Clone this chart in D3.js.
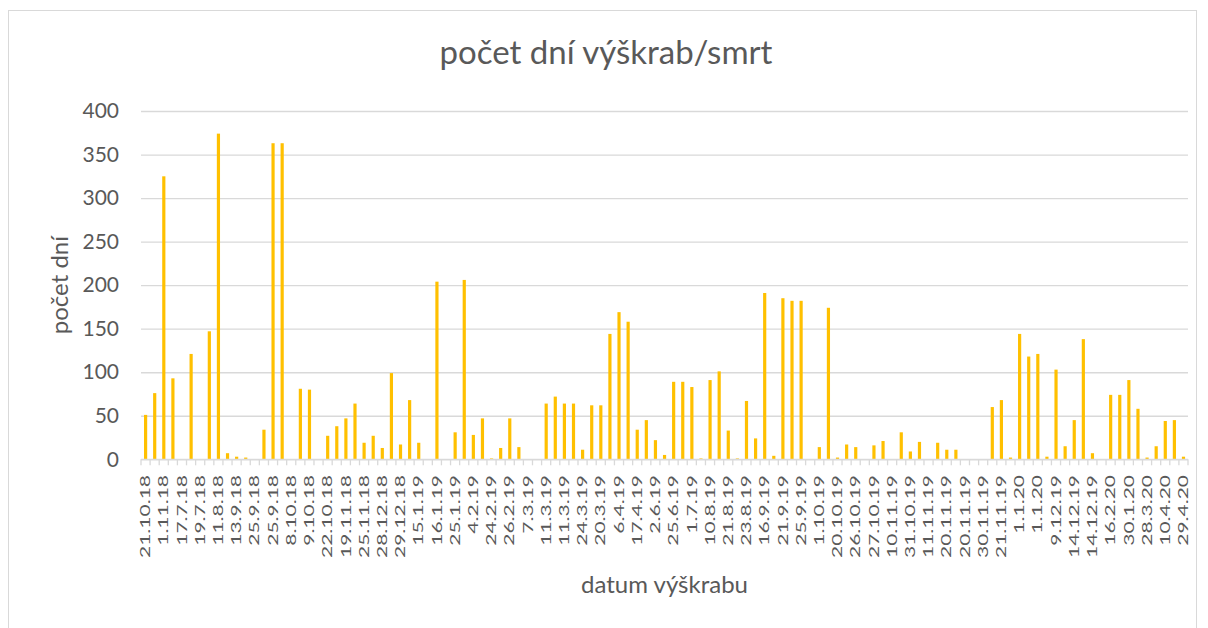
<!DOCTYPE html>
<html>
<head>
<meta charset="utf-8">
<script src="https://cdn.jsdelivr.net/npm/d3@7"></script>
<style>
  body { margin: 0; background: #fff; }
  svg { display: block; font-family: Lato, "Open Sans", sans-serif; }
</style>
</head>
<body>
<svg id="chart"></svg>
<script>
// shown tick labels (Excel shows every other category)
const tickLabels = ["21.10.18","1.11.18","17.7.18","19.7.18","11.8.18","13.9.18","25.9.18","25.9.18",
  "8.10.18","9.10.18","22.10.18","19.11.18","25.11.18","28.12.18","29.12.18","15.1.19","16.1.19",
  "25.1.19","4.2.19","24.2.19","26.2.19","7.3.19","11.3.19","11.3.19","24.3.19","20.3.19","6.4.19",
  "17.4.19","2.6.19","25.6.19","1.7.19","10.8.19","21.8.19","23.8.19","16.9.19","21.9.19","25.9.19",
  "1.10.19","20.10.19","26.10.19","27.10.19","10.11.19","31.10.19","11.11.19","20.11.19","20.11.19",
  "30.11.19","21.11.19","1.1.20","1.1.20","9.12.19","14.12.19","14.12.19","16.2.20","30.1.20",
  "28.3.20","10.4.20","29.4.20"];

// počet dní per výškrab, one per category
const days = [51,76,325,93,0,121,0,147,374,7,3,2,0,34,363,363,0,81,80,0,27,38,47,64,19,27,13,99,17,68,
  19,0,204,0,31,206,28,47,1,13,47,14,0,0,64,72,64,64,11,62,62,144,169,158,34,45,22,5,89,
  89,83,1,91,101,33,1,67,24,191,4,185,182,182,0,14,174,2,17,14,0,16,21,0,31,9,20,0,19,11,
  11,0,0,0,60,68,2,144,118,121,3,103,15,45,138,7,0,74,74,91,58,2,15,44,45,3];

const yTicks = [0, 50, 100, 150, 200, 250, 300, 350, 400];

const width = 1208, height = 628;
const margin = { top: 111, right: 20, bottom: 168.7, left: 141 };
const textColor = "#595959", gridColor = "#D9D9D9";

const svg = d3.select("#chart").attr("width", width).attr("height", height);

// chart border
svg.append("rect")
  .attr("x", 8.5).attr("y", 10.5)
  .attr("width", 1188).attr("height", 640)
  .attr("fill", "none").attr("stroke", gridColor);

const x = d3.scaleBand()
  .domain(d3.range(days.length))
  .range([margin.left, width - margin.right])
  .padding(0);

const y = d3.scaleLinear()
  .domain([0, 400])
  .range([height - margin.bottom, margin.top]);

// gridlines + y labels
const yAxis = g => g
  .attr("transform", `translate(${margin.left},0)`)
  .call(d3.axisLeft(y).tickValues(yTicks).tickSize(-(width - margin.left - margin.right)).tickPadding(22))
  .call(g => g.select(".domain").remove())
  .call(g => g.selectAll(".tick line").attr("stroke", gridColor).attr("stroke-width", 1.3))
  .call(g => g.selectAll(".tick text")
    .attr("fill", textColor)
    .attr("font-size", 21)
    .attr("font-family", "Lato, sans-serif"));
svg.append("g").call(yAxis);

// bars
svg.append("g")
  .attr("fill", "#FFC000")
  .selectAll("rect")
  .data(days)
  .join("rect")
  .attr("x", (d, i) => x(i) + x.bandwidth() * 0.33)
  .attr("width", x.bandwidth() * 0.35)
  .attr("y", d => y(d))
  .attr("height", d => y(0) - y(d));

// category axis
const base = y(0);
svg.append("line")
  .attr("x1", margin.left).attr("x2", width - margin.right)
  .attr("y1", base).attr("y2", base)
  .attr("stroke", gridColor).attr("stroke-width", 1.3);

svg.append("g")
  .selectAll("line")
  .data(d3.range(days.length + 1))
  .join("line")
  .attr("x1", i => margin.left + i * x.step())
  .attr("x2", i => margin.left + i * x.step())
  .attr("y1", base).attr("y2", base + 6)
  .attr("stroke", gridColor).attr("stroke-width", 1.3);

svg.append("g")
  .selectAll("text")
  .data(tickLabels)
  .join("text")
  .attr("transform", (d, k) => `translate(${x(k * 2) + x.bandwidth() / 2},475) rotate(-90) scale(1,0.62)`)
  .attr("text-anchor", "end")
  .attr("dy", "0.36em")
  .attr("fill", textColor)
  .attr("font-size", 21)
  .text(d => d);

// titles
svg.append("text")
  .attr("x", 606).attr("y", 64)
  .attr("text-anchor", "middle")
  .attr("fill", textColor)
  .attr("font-size", 33)
  .text("počet dní výškrab/smrt");

svg.append("text")
  .attr("x", (margin.left + width - margin.right) / 2).attr("y", 593)
  .attr("text-anchor", "middle")
  .attr("fill", textColor)
  .attr("font-size", 24)
  .text("datum výškrabu");

svg.append("text")
  .attr("transform", `translate(68,${(y(0) + y(400)) / 2}) rotate(-90)`)
  .attr("text-anchor", "middle")
  .attr("fill", textColor)
  .attr("font-size", 24)
  .text("počet dní");
</script>
</body>
</html>
